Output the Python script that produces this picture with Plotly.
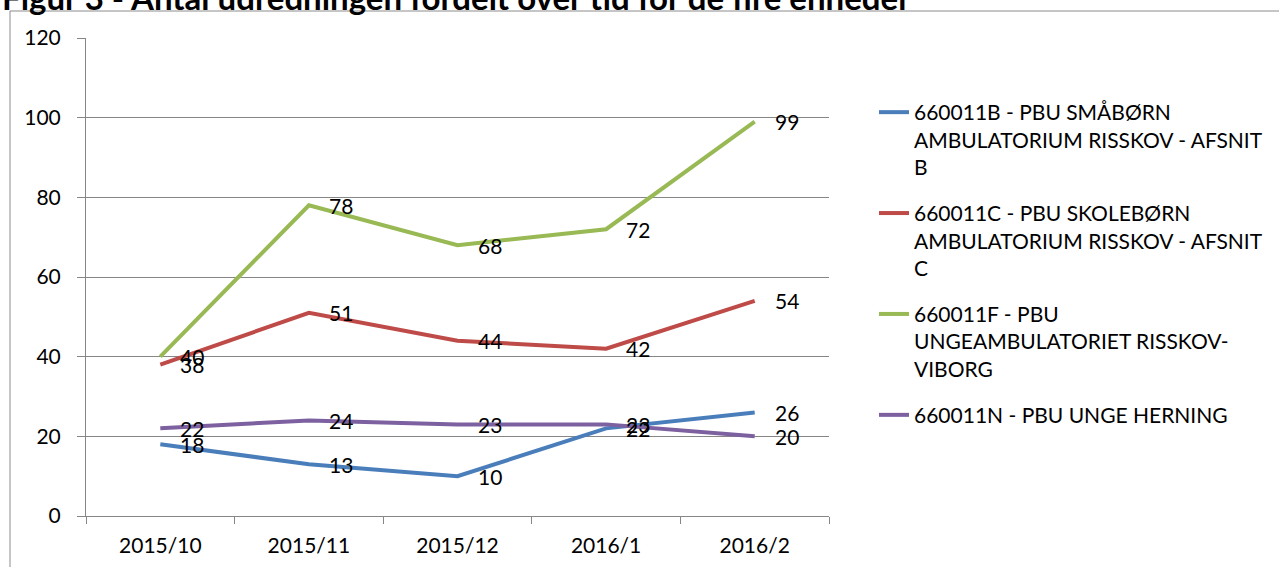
import plotly.graph_objects as go

# Months on the category axis
months = ["2015/10", "2015/11", "2015/12", "2016/1", "2016/2"]

# Number of assessments per unit and month
smaborn = [18, 13, 10, 22, 26]
skoleborn = [38, 51, 44, 42, 54]
ungeamb = [40, 78, 68, 72, 99]
herning = [22, 24, 23, 23, 20]

series_names = [
    "660011B - PBU SMÅBØRN<br>AMBULATORIUM RISSKOV - AFSNIT<br>B",
    "660011C - PBU SKOLEBØRN<br>AMBULATORIUM RISSKOV - AFSNIT<br>C",
    "660011F - PBU<br>UNGEAMBULATORIET RISSKOV-<br>VIBORG",
    "660011N - PBU UNGE HERNING",
]
series_values = [smaborn, skoleborn, ungeamb, herning]
series_colors = ["#4A7EBB", "#BE4B48", "#98B954", "#7D60A0"]

title_text = "Figur 3 - Antal udredningen fordelt over tid for de fire enheder"

FONT = "Lato"
FS = 21
W, H = 1279, 567
L, R, T, B = 86, 450, 38, 51
PH = H - T - B
PW = W - L - R

fig = go.Figure()

for name, vals, col in zip(series_names, series_values, series_colors):
    fig.add_trace(go.Scatter(
        x=months, y=vals, name=name, mode="lines",
        line=dict(color=col, width=4),
        legendgroup=name,
    ))
    for m, v in zip(months, vals):
        fig.add_annotation(
            x=m, y=v, text=str(v), showarrow=False,
            xanchor="left", yanchor="middle", xshift=18,
            font=dict(family=FONT, size=FS, color="#000000"),
        )

# Bold caption, partly above the page edge
fig.add_annotation(
    xref="paper", yref="paper",
    x=-L / PW, y=(H - B + 3) / PH,
    xanchor="left", yanchor="middle", showarrow=False,
    text="<b>" + title_text + "</b>",
    font=dict(family=FONT, size=33, color="#000000"),
)

# Frame around the chart
fig.add_shape(
    type="rect", xref="paper", yref="paper",
    x0=(10 - L) / PW, x1=(W + 5 - L) / PW,
    y0=(H - B - H - 5) / PH, y1=(H - B - 11) / PH,
    line=dict(color="#8C8C8C", width=1), fillcolor="rgba(0,0,0,0)",
    layer="below",
)

fig.update_layout(
    width=W, height=H,
    margin=dict(l=L, r=R, t=T, b=B, autoexpand=False),
    paper_bgcolor="white", plot_bgcolor="white",
    font=dict(family=FONT, size=FS, color="#000000"),
    showlegend=True,
    legend=dict(
        x=(874 - L) / PW, y=(H - B - 92) / PH,
        xanchor="left", yanchor="top",
        valign="top", tracegroupgap=16,
        font=dict(family=FONT, size=FS, color="#000000"),
        bgcolor="rgba(0,0,0,0)",
        itemwidth=30,
    ),
    xaxis=dict(
        type="category", range=[-0.5, 4.5],
        showgrid=False, showline=True, linecolor="#868686", linewidth=1,
        ticks="outside", tickson="boundaries", ticklen=7, tickcolor="#868686",
        ticklabelstandoff=11,
        tickfont=dict(family=FONT, size=FS),
    ),
    yaxis=dict(
        range=[0, 120], dtick=20, tick0=0,
        showgrid=True, gridcolor="#868686", gridwidth=1,
        showline=True, linecolor="#868686", linewidth=1,
        ticks="outside", ticklen=8, tickcolor="#868686",
        ticklabelstandoff=12,
        zeroline=False,
        tickfont=dict(family=FONT, size=FS),
    ),
)

fig.write_html("out.html")
